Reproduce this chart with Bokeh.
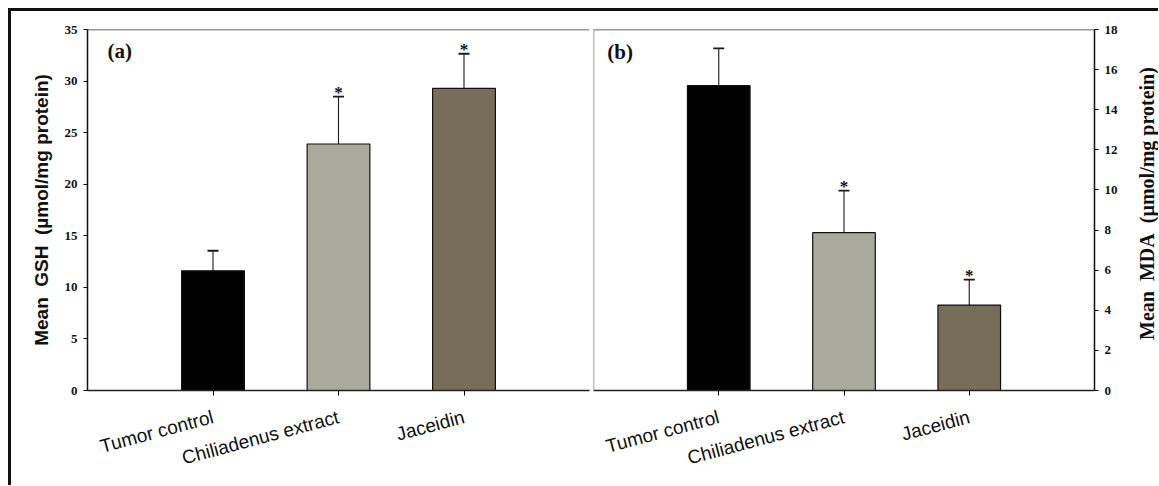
import math
from bokeh.plotting import figure
from bokeh.models import (ColumnDataSource, Range1d, FixedTicker, Whisker, TeeHead, Span, Label)
from bokeh.layouts import row
from bokeh.core.properties import value
from bokeh.embed import file_html
from bokeh.resources import INLINE

# ---------------- data ----------------
categories = ["Tumor control", "Chiliadenus extract", "Jaceidin"]
bar_colors = ["#000000", "#a9aa9c", "#766e58"]

gsh_mean = [11.6, 23.9, 29.3]
gsh_err = [1.95, 4.6, 3.35]
gsh_sig = ["", "*", "*"]
gsh_ticks = [0, 5, 10, 15, 20, 25, 30, 35]

mda_mean = [15.2, 7.87, 4.26]
mda_err = [1.86, 2.1, 1.27]
mda_sig = ["", "*", "*"]
mda_ticks = [0, 2, 4, 6, 8, 10, 12, 14, 16, 18]

SERIF = "Liberation Serif"
SANS = "Liberation Sans"
NB = "\u00a0"
H = 474
TOP = 18
BOTTOM = 95


def panel(means, errs, sig, yticks, tag, side, width, mbl, mbr, tag_xy):
    xs = [i + 1 for i in range(len(categories))]
    src = ColumnDataSource(dict(
        x=xs, top=means,
        upper=[m + e for m, e in zip(means, errs)],
        lower=[m - e for m, e in zip(means, errs)],
        color=bar_colors, sig=sig))
    ymax = yticks[-1]
    p = figure(width=width, height=H, x_range=Range1d(0, len(categories) + 1),
               y_range=Range1d(0, ymax), output_backend="svg", toolbar_location=None,
               y_axis_location=side, min_border_left=mbl, min_border_right=mbr,
               min_border_top=TOP, min_border_bottom=BOTTOM)
    p.outline_line_color = None
    p.grid.visible = False
    p.background_fill_color = "white"
    p.border_fill_color = "white"

    p.vbar(x="x", top="top", bottom=0, width=0.5, fill_color="color",
           line_color="#111111", line_width=1.2, source=src)
    w = Whisker(source=src, base="x", upper="upper", lower="lower",
                line_color="#1a1a1a", line_width=1.1,
                upper_head=TeeHead(size=11, line_width=1.8, line_color="#1a1a1a"),
                lower_head=TeeHead(size=11, line_width=1.8, line_color="#1a1a1a"))
    p.add_layout(w)
    p.text(x="x", y="upper", text="sig", source=src, text_font=value(SERIF),
           text_font_style="bold", text_font_size="17px", text_align="center",
           text_baseline="alphabetic", y_offset=-4, text_color="#111111")

    p.add_layout(Span(location=ymax, dimension="width", line_color="#333333", line_width=1.5))

    xa = p.xaxis[0]
    xa.ticker = FixedTicker(ticks=xs)
    xa.major_label_overrides = {x: c for x, c in zip(xs, categories)}
    xa.major_label_orientation = math.radians(15)
    xa.major_label_text_font = SANS
    xa.major_label_text_font_size = "19px"
    xa.major_label_text_color = "#111111"
    xa.major_tick_in = 0
    xa.major_tick_out = 5
    xa.minor_tick_line_color = None
    xa.axis_line_width = 1.5
    xa.axis_line_color = "#222222"
    xa.major_label_standoff = 21

    ya = p.yaxis[0]
    ya.ticker = FixedTicker(ticks=yticks)
    ya.major_tick_in = 0
    ya.major_tick_out = 4
    ya.minor_tick_line_color = None
    ya.axis_line_width = 1.5
    ya.axis_line_color = "#111111"
    ya.major_label_text_font = SERIF
    ya.major_label_text_font_style = "bold"
    ya.major_label_text_font_size = "13px"
    ya.major_label_text_color = "#111111"
    ya.major_label_standoff = 6

    p.add_layout(Label(x=tag_xy[0], y=tag_xy[1], text=tag, text_font=SERIF,
                       text_font_style="bold", text_font_size="21px",
                       text_baseline="middle", text_color="#111111"))
    return p


pa = panel(gsh_mean, gsh_err, gsh_sig, gsh_ticks, "(a)", "left", 580, 76, 2, (0.16, 32.9))
ya = pa.yaxis[0]
ya.axis_label = f"Mean{NB}{NB}GSH{NB}{NB}(\u00b5mol/mg protein)"
ya.axis_label_text_font = SANS
ya.axis_label_text_font_style = "bold"
ya.axis_label_text_color = "#111111"
ya.axis_label_text_font_size = "19px"
ya.axis_label_standoff = 10

pb = panel(mda_mean, mda_err, mda_sig, mda_ticks, "(b)", "right", 533, 2, 30, (0.11, 16.86))
pb.add_layout(Span(location=0, dimension="height", line_color="#808080", line_width=1.5))

# narrow strip holding the right-hand axis title (reads bottom-to-top)
LW = 34
pc = figure(width=LW, height=H, x_range=Range1d(0, LW), y_range=Range1d(0, H),
            output_backend="svg", toolbar_location=None,
            min_border_left=0, min_border_right=0, min_border_top=0, min_border_bottom=0)
pc.axis.visible = False
pc.grid.visible = False
pc.outline_line_color = None
frame_mid = H - TOP - (H - TOP - BOTTOM) / 2 - 30
pc.add_layout(Label(x=22, y=frame_mid, angle=math.pi / 2,
                    text=f"Mean{NB}{NB}MDA{NB}{NB}(\u00b5mol/mg protein)",
                    text_font=SERIF, text_font_style="bold", text_font_size="20px",
                    text_align="center", text_baseline="middle", text_color="#111111"))

layout = row(pa, pb, pc, margin=(8, 0, 0, 8),
             styles={"border-left": "3px solid #111111",
                     "border-top": "3px solid #111111"})

open("out.html", "w").write(file_html(layout, INLINE))
